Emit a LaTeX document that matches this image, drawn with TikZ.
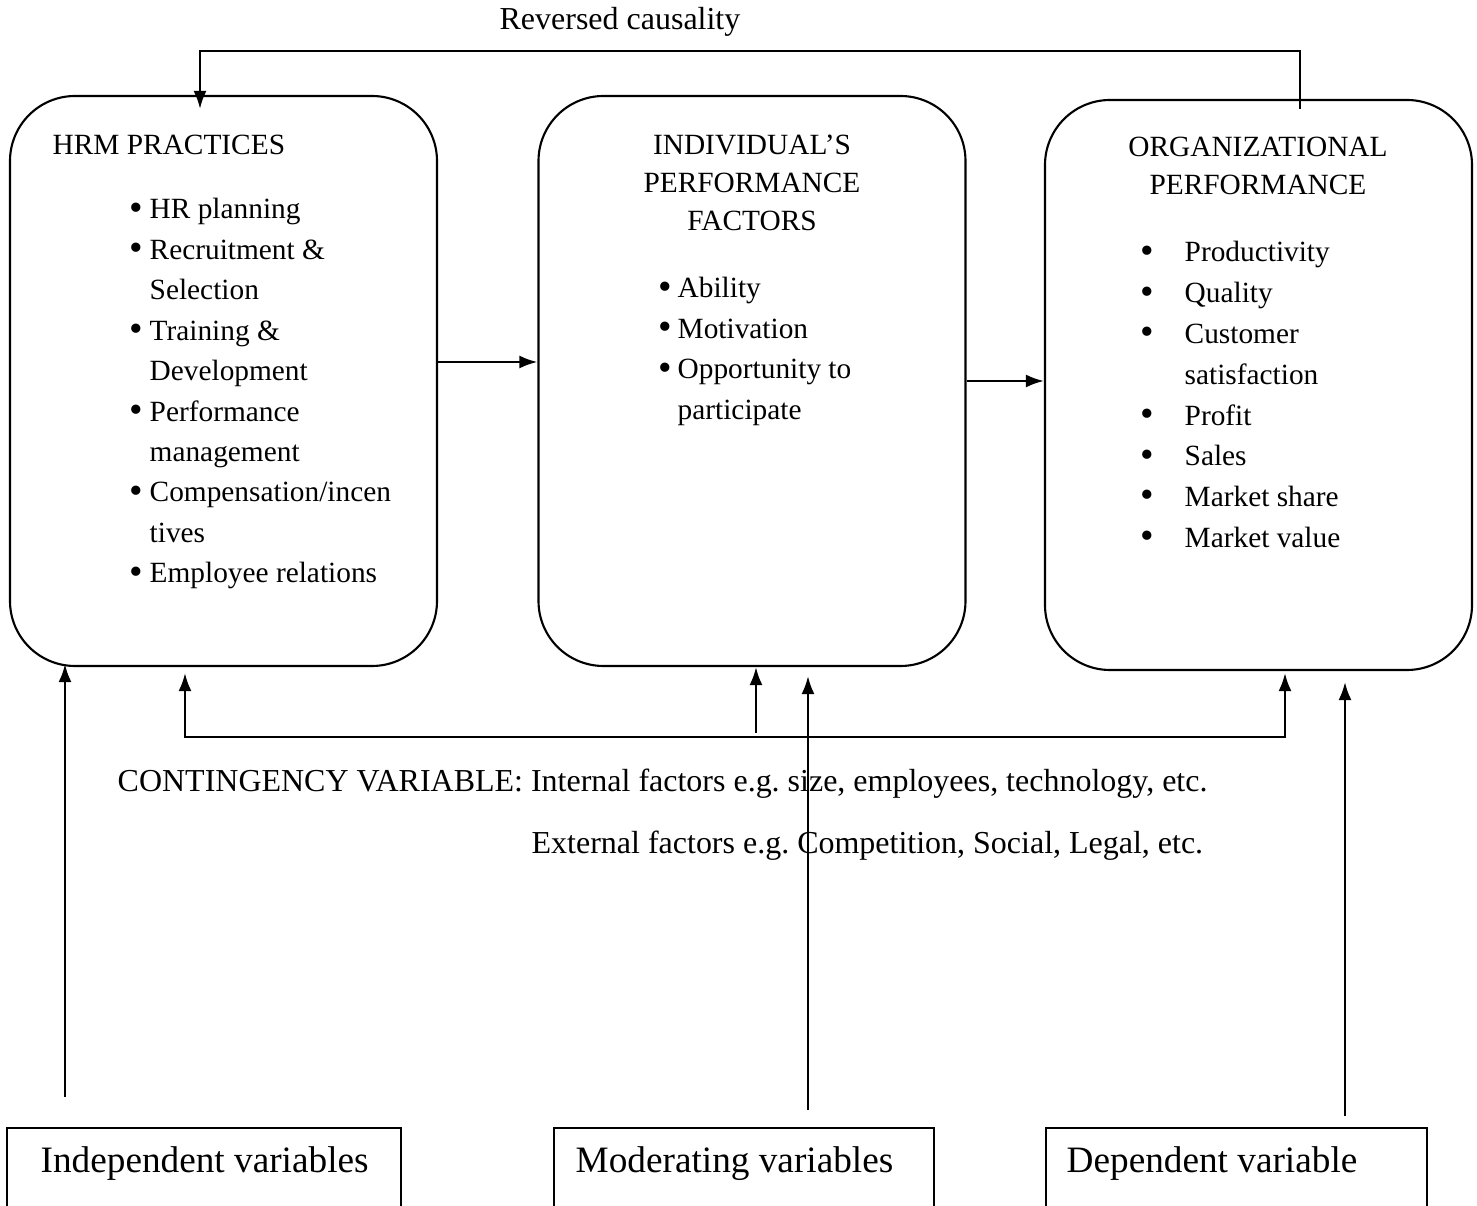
\documentclass[tikz,border=0pt]{standalone}
\usepackage{fontspec}
\setmainfont{Liberation Serif}
\usetikzlibrary{arrows.meta}

\newcommand{\bl}{\raisebox{-0.1ex}{\fontsize{11}{11}\selectfont\textbullet}}

\begin{document}
\frenchspacing
\begin{tikzpicture}[>={Latex[length=1.8mm,width=1.3mm]},
  every node/.style={inner sep=0pt,font=\fontsize{8.35}{11.5}\selectfont},
  blob/.style={draw,line width=0.6pt,rounded corners=0.65cm,
    minimum width=4.27cm,minimum height=5.7cm},
  varbox/.style={draw,line width=0.6pt,minimum height=1.6cm},
  bigtext/.style={font=\fontsize{9.1}{11.5}\selectfont},
  link/.style={line width=0.7pt}]
 \useasboundingbox (0,0) rectangle (14.77,12.06);

 \node[blob] (hrm) at (2.235,8.25) {};
 \node[blob] (ind) at (7.52,8.25) {};
 \node[blob] (org) at (12.585,8.21) {};

 \node[anchor=base west] (hrmT) at (0.52,10.51) {HRM PRACTICES};
 \node[anchor=base west] (hrmL) at (1.29,9.87) {\begin{tabular}[t]{@{}p{0.20cm}@{}l@{}}
  \bl & HR planning\\
  \bl & Recruitment \&\\
      & Selection\\
  \bl & Training \&\\
      & Development\\
  \bl & Performance\\
      & management\\
  \bl & Compensation/incen\\
      & tives\\
  \bl & Employee relations
 \end{tabular}};

 \node[anchor=base,font=\fontsize{8.35}{10.8}\selectfont] (indT) at (7.52,10.51)
  {\begin{tabular}[t]{@{}c@{}}INDIVIDUAL'S\\PERFORMANCE\\FACTORS\end{tabular}};
 \node[anchor=base west] (indL) at (6.58,9.08) {\begin{tabular}[t]{@{}p{0.19cm}@{}l@{}}
  \bl & Ability\\
  \bl & Motivation\\
  \bl & Opportunity to\\
      & participate
 \end{tabular}};

 \node[anchor=base,font=\fontsize{8.35}{10.8}\selectfont] (orgT) at (12.58,10.49)
  {\begin{tabular}[t]{@{}c@{}}ORGANIZATIONAL\\PERFORMANCE\end{tabular}};
 \node[anchor=base west,font=\fontsize{8.35}{11.6}\selectfont] (orgL) at (11.40,9.44)
  {\begin{tabular}[t]{@{}p{0.44cm}@{}l@{}}
  \bl & Productivity\\
  \bl & Quality\\
  \bl & Customer\\
      & satisfaction\\
  \bl & Profit\\
  \bl & Sales\\
  \bl & Market share\\
  \bl & Market value
 \end{tabular}};

 \node[anchor=base,bigtext] (rev) at (6.20,11.76) {Reversed causality};
 \node[anchor=base west,bigtext] (cont) at (1.17,4.14)
  {CONTINGENCY VARIABLE: Internal factors e.g. size, employees, technology, etc.};
 \node[anchor=base west,bigtext] (ext) at (5.31,3.52)
  {External factors e.g. Competition, Social, Legal, etc.};

 % variable boxes, cut by the page edge
 \node[varbox,minimum width=3.94cm] (indep) at (2.04,-0.02) {};
 \node[varbox,minimum width=3.80cm] (moder) at (7.44,-0.02) {};
 \node[varbox,minimum width=3.81cm] (dep) at (12.365,-0.02) {};
 \node[anchor=base west,font=\fontsize{10.6}{13}\selectfont] (indepT) at (0.40,0.33) {Independent variables};
 \node[anchor=base west,font=\fontsize{10.6}{13}\selectfont] (moderT) at (5.75,0.33) {Moderating variables};
 \node[anchor=base west,font=\fontsize{10.6}{13}\selectfont] (depT) at (10.66,0.33) {Dependent variable};

 \coordinate (cbar) at (7.56,4.69);
 \coordinate (ivA) at (0.65,1.09);
 \coordinate (mvA) at (8.08,0.96);
 \coordinate (dvA) at (13.45,0.90);

 \draw[link,->] ([shift={(0.415,-0.1)}]org.north) -- ++(0,0.58)
   -| ([shift={(-0.235,-0.14)}]hrm.north);
 \draw[link,->] ([yshift=0.19cm]hrm.east) -- ([yshift=0.19cm]ind.west);
 \draw[link,->] (ind.east) -- (org.west |- ind.east);
 \draw[link,<->] ([shift={(-0.385,-0.06)}]hrm.south) |- (cbar)
   -| ([shift={(0.265,-0.02)}]org.south);
 \draw[link,->] ([yshift=0.04cm]cbar) -- ([xshift=0.04cm]ind.south);
 \draw[link,->] (ivA) -- ([yshift=0.03cm]ivA |- hrm.south);
 \draw[link,->] (mvA) -- ([yshift=-0.09cm]mvA |- ind.south);
 \draw[link,->] (dvA) -- ([yshift=-0.11cm]dvA |- org.south);
\end{tikzpicture}
\end{document}
